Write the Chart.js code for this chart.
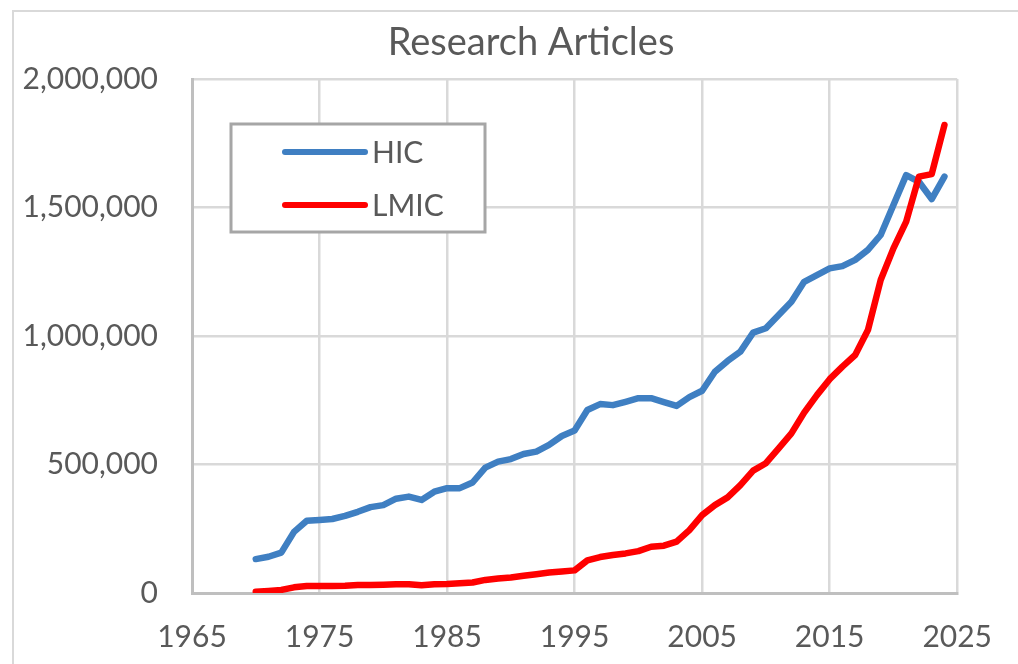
<!DOCTYPE html>
<html>
<head>
<meta charset="utf-8">
<title>Research Articles</title>
<script src="https://cdn.jsdelivr.net/npm/chart.js@4.4.1/dist/chart.umd.min.js"></script>
<style>
  html, body { margin: 0; padding: 0; background: #ffffff; }
  #wrap { width: 1018px; height: 664px; }
</style>
</head>
<body>
<div id="wrap"><canvas id="myChart" width="1018" height="664"></canvas></div>
<script>
'use strict';
let years = [];
for (let y = 1970; y <= 2024; y++) years.push(y);

// one value per year 1970..2024
let hicValues = [
  132000, 141000, 157000, 238000, 281000, 284000, 288000, 300000, 316000, 334000,
  342000, 367000, 375000, 362000, 394000, 408000, 408000, 430000, 488000, 511000,
  521000, 541000, 550000, 576000, 611000, 632000, 712000, 735000, 731000, 744000,
  758000, 758000, 743000, 728000, 762000, 787000, 861000, 903000, 939000, 1013000,
  1030000, 1082000, 1133000, 1211000, 1237000, 1263000, 1272000, 1296000, 1335000, 1393000,
  1510000, 1626000, 1600000, 1533000, 1620000
];
let lmicValues = [
  5000, 8000, 12000, 22000, 27000, 27000, 27000, 28000, 31000, 31000,
  32000, 34000, 34000, 30000, 34000, 35000, 38000, 41000, 51000, 56000,
  60000, 67000, 73000, 80000, 84000, 88000, 127000, 140000, 148000, 154000,
  163000, 180000, 184000, 200000, 245000, 303000, 342000, 372000, 420000, 476000,
  505000, 563000, 621000, 702000, 770000, 832000, 881000, 926000, 1023000, 1218000,
  1341000, 1445000, 1620000, 1630000, 1821000
];
let xTicks = [1965, 1975, 1985, 1995, 2005, 2015, 2025];
let yTicks = [0, 500000, 1000000, 1500000, 2000000];

let labelColor = '#595959';
let fontName = 'Lato, "Open Sans", sans-serif';

function toPoints(vals) {
  let pts = [];
  for (let i = 0; i < years.length; i++) {
    pts.push({ x: years[i], y: vals[i] });
  }
  return pts;
}

// outer chart border, like the office chart frame
let framePlugin = {
  id: 'frame',
  beforeDraw(chart) {
    let ctx = chart.ctx;
    ctx.save();
    ctx.strokeStyle = '#d9d9d9';
    ctx.lineWidth = 2;
    ctx.strokeRect(13, 11, chart.width + 20, chart.height + 20);
    ctx.restore();
  }
};

// the title in the picture is centred on the frame, not on the plot
let titleShift = {
  id: 'titleShift',
  afterLayout(chart) {
    if (chart.titleBlock) chart.titleBlock.left = 87;
  }
};

// boxed legend sitting inside the plot
let boxLegend = {
  id: 'boxLegend',
  afterDraw(chart) {
    let ctx = chart.ctx;
    let area = chart.chartArea;
    let left = area.left + 39, top = area.top + 45, w = 254, h = 108;
    ctx.save();
    ctx.fillStyle = '#ffffff';
    ctx.fillRect(left, top, w, h);
    ctx.strokeStyle = '#a6a6a6';
    ctx.lineWidth = 3;
    ctx.strokeRect(left, top, w, h);
    let sets = chart.data.datasets;
    for (let i = 0; i < sets.length; i++) {
      let yy = top + 28 + i * 53;
      ctx.beginPath();
      ctx.strokeStyle = sets[i].borderColor;
      ctx.lineWidth = 6;
      ctx.lineCap = 'round';
      ctx.moveTo(left + 54, yy);
      ctx.lineTo(left + 134, yy);
      ctx.stroke();
      ctx.fillStyle = labelColor;
      ctx.font = '30px ' + fontName;
      ctx.textBaseline = 'middle';
      ctx.textAlign = 'left';
      ctx.fillText(sets[i].label, left + 141, yy + 1);
    }
    ctx.restore();
  }
};

let ctx = document.getElementById('myChart').getContext('2d');
let chart = new Chart(ctx, {
  type: 'line',
  data: {
    datasets: [{
      label: 'HIC',
      data: toPoints(hicValues),
      borderColor: '#3f7fc2',
      borderWidth: 6.5,
      pointRadius: 0,
      tension: 0,
      borderCapStyle: 'round',
      borderJoinStyle: 'round',
      order: 1
    }, {
      label: 'LMIC',
      data: toPoints(lmicValues),
      borderColor: '#ff0000',
      borderWidth: 6.5,
      pointRadius: 0,
      tension: 0,
      borderCapStyle: 'round',
      borderJoinStyle: 'round',
      order: 0
    }]
  },
  options: {
    responsive: false,
    animation: false,
    layout: { padding: { left: 0, right: 43, top: 14, bottom: 0 } },
    plugins: {
      legend: { display: false },
      tooltip: { enabled: false },
      title: {
        display: true,
        text: 'Research Articles',
        color: labelColor,
        font: { family: fontName, size: 38, weight: 'normal' },
        padding: { top: 6, bottom: 13.4 }
      }
    },
    scales: {
      x: {
        type: 'linear',
        min: 1965,
        max: 2025,
        afterBuildTicks(scale) {
          scale.ticks = xTicks.map(v => ({ value: v }));
        },
        afterFit(scale) { scale.height = 71; },
        ticks: {
          color: labelColor,
          font: { family: fontName, size: 30 },
          padding: 26,
          maxRotation: 0,
          callback: v => String(v)
        },
        grid: {
          color: ctx2 => ctx2.index === 0 ? '#bfbfbf' : '#d9d9d9',
          lineWidth: 2.5,
          drawTicks: false
        },
        border: { color: '#bfbfbf', width: 3 }
      },
      y: {
        min: 0,
        max: 2000000,
        afterBuildTicks(scale) {
          scale.ticks = yTicks.map(v => ({ value: v }));
        },
        afterFit(scale) { scale.width = 192; },
        ticks: {
          color: labelColor,
          font: { family: fontName, size: 30 },
          padding: 34,
          callback: v => v.toLocaleString('en-US')
        },
        grid: {
          color: '#d9d9d9',
          lineWidth: 2.5,
          drawTicks: false
        },
        border: { color: '#bfbfbf', width: 3 }
      }
    }
  },
  plugins: [framePlugin, titleShift, boxLegend]
});
</script>
</body>
</html>
